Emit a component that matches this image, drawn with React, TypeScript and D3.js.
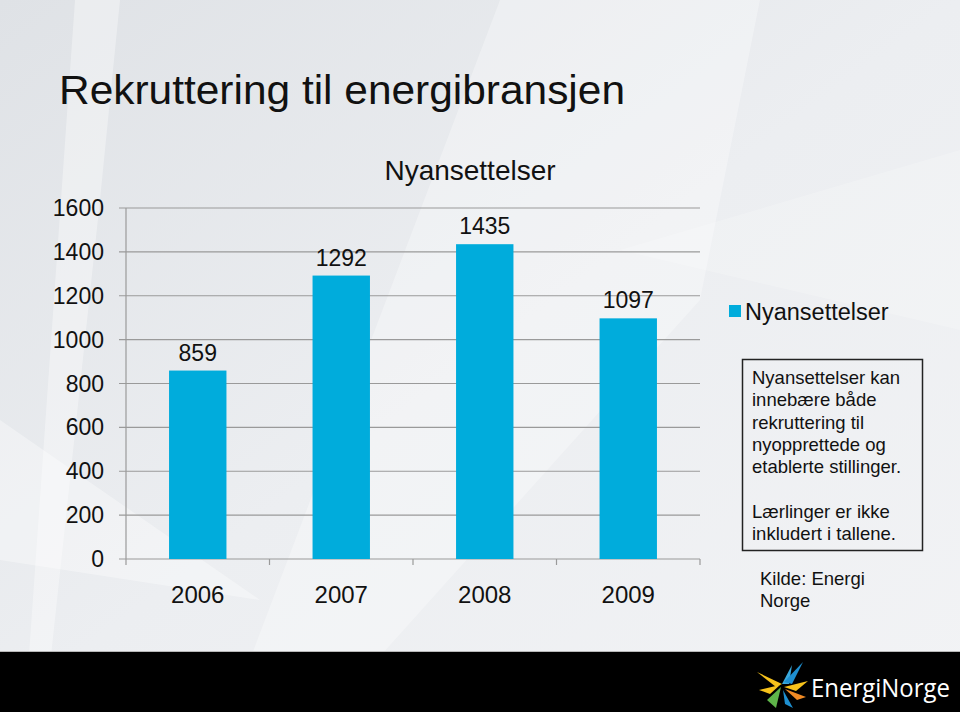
import React from "react";
import * as d3 from "d3";

const W = 960;
const H = 712;

const years = ["2006", "2007", "2008", "2009"];
const hires = [859, 1292, 1435, 1097];
const yTicks = [0, 200, 400, 600, 800, 1000, 1200, 1400, 1600];
const noteLines = [
  "Nyansettelser kan",
  "innebære både",
  "rekruttering til",
  "nyopprettede og",
  "etablerte stillinger.",
  "",
  "Lærlinger er ikke",
  "inkludert i tallene.",
];
const sourceLines = ["Kilde: Energi", "Norge"];

const plot = { left: 126, right: 700, top: 208, bottom: 559 };
const barColor = "#00acdc";
const font = "'Liberation Sans', Arial, Helvetica, sans-serif";

export default function App() {
  const x = d3
    .scaleBand<string>()
    .domain(years)
    .range([plot.left, plot.right])
    .paddingInner(0.6)
    .paddingOuter(0.3);
  const xTick = d3.scaleBand<string>().domain(years).range([plot.left, plot.right]);
  const y = d3.scaleLinear().domain([0, 1600]).range([plot.bottom, plot.top]);

  return (
    <svg
      width={W}
      height={H}
      style={{ position: "absolute", left: 0, top: 0 }}
      fontFamily={font}
    >
      <defs>
        <linearGradient id="bg" x1="0" y1="0" x2="1" y2="1">
          <stop offset="0" stopColor="#dfe2e6" />
          <stop offset="0.5" stopColor="#eceef1" />
          <stop offset="1" stopColor="#f2f3f5" />
        </linearGradient>
      </defs>
      <rect width={W} height={H} fill="url(#bg)" />
      {/* light facets in the backdrop */}
      <polygon points="75,0 120,0 100,200 45,712 25,712" fill="#ffffff" opacity={0.35} />
      <polygon points="500,0 760,0 700,300 330,712 230,712" fill="#ffffff" opacity={0.3} />
      <polygon points="0,420 260,600 0,560" fill="#ffffff" opacity={0.35} />
      <polygon points="620,250 960,150 960,330" fill="#ffffff" opacity={0.2} />

      <text x={59} y={104} fontSize={41} fill="#111" textLength={566} lengthAdjust="spacingAndGlyphs">
        Rekruttering til energibransjen
      </text>

      <text x={470} y={180} fontSize={28} textAnchor="middle" fill="#111">
        Nyansettelser
      </text>

      {/* grid + y axis */}
      {yTicks.map((t) => (
        <g key={t}>
          <line x1={119} x2={plot.right} y1={y(t)} y2={y(t)} stroke="#9a9a9a" strokeWidth={1.2} />
          <text x={104} y={y(t) + 8} fontSize={23} textAnchor="end" fill="#111">
            {t}
          </text>
        </g>
      ))}
      <line x1={plot.left} x2={plot.left} y1={plot.top} y2={plot.bottom + 6} stroke="#9a9a9a" strokeWidth={1.2} />
      {years.map((yr) => (
        <line
          key={yr}
          x1={(xTick(yr) as number) + xTick.bandwidth()}
          x2={(xTick(yr) as number) + xTick.bandwidth()}
          y1={plot.bottom}
          y2={plot.bottom + 6}
          stroke="#9a9a9a"
          strokeWidth={1.2}
        />
      ))}

      {years.map((yr, i) => (
        <g key={yr}>
          <rect
            x={x(yr)}
            y={y(hires[i])}
            width={x.bandwidth()}
            height={y(0) - y(hires[i])}
            fill={barColor}
          />
          <text
            x={(x(yr) as number) + x.bandwidth() / 2}
            y={y(hires[i]) - 10}
            fontSize={23}
            textAnchor="middle"
            fill="#111"
          >
            {hires[i]}
          </text>
          <text
            x={(x(yr) as number) + x.bandwidth() / 2}
            y={603}
            fontSize={24}
            textAnchor="middle"
            fill="#111"
          >
            {yr}
          </text>
        </g>
      ))}

      {/* legend */}
      <rect x={729} y={305} width={12} height={12} fill={barColor} />
      <text x={745} y={320} fontSize={23.5} fill="#111">
        Nyansettelser
      </text>

      {/* note box */}
      <rect x={742.5} y={359.5} width={180} height={191} fill="none" stroke="#222" strokeWidth={1.5} />
      {noteLines.map((l, i) => (
        <text key={i} x={752} y={384 + i * 22.3} fontSize={18.5} fill="#111">
          {l}
        </text>
      ))}
      {sourceLines.map((l, i) => (
        <text key={l} x={760} y={585 + i * 22} fontSize={18.5} fill="#111">
          {l}
        </text>
      ))}

      {/* footer band */}
      <rect x={0} y={651} width={W} height={1.5} fill="#b8b8b8" />
      <rect x={0} y={652} width={W} height={60} fill="#000" />
      <g>
        <polygon points="757,672 782,684 776,687" fill="#f6c21b" />
        <polygon points="759,690 780,685 770,694" fill="#f6c21b" />
        <polygon points="767,700 781,687 776,708" fill="#5fb54a" />
        <polygon points="782,684 792,665 789,684" fill="#3aa9dc" />
        <polygon points="784,682 803,662 792,684" fill="#1e8fd0" />
        <polygon points="784,687 808,681 796,691" fill="#f6c21b" />
        <polygon points="785,689 806,697 797,700" fill="#f08a24" />
        <polygon points="783,690 793,708 785,704" fill="#1e8fd0" />
      </g>
      <text
        x={811}
        y={697}
        fontSize={25}
        fill="#ffffff"
        fontFamily="'Open Sans', 'Noto Sans', sans-serif"
        textLength={139}
        lengthAdjust="spacingAndGlyphs"
      >
        EnergiNorge
      </text>
    </svg>
  );
}
